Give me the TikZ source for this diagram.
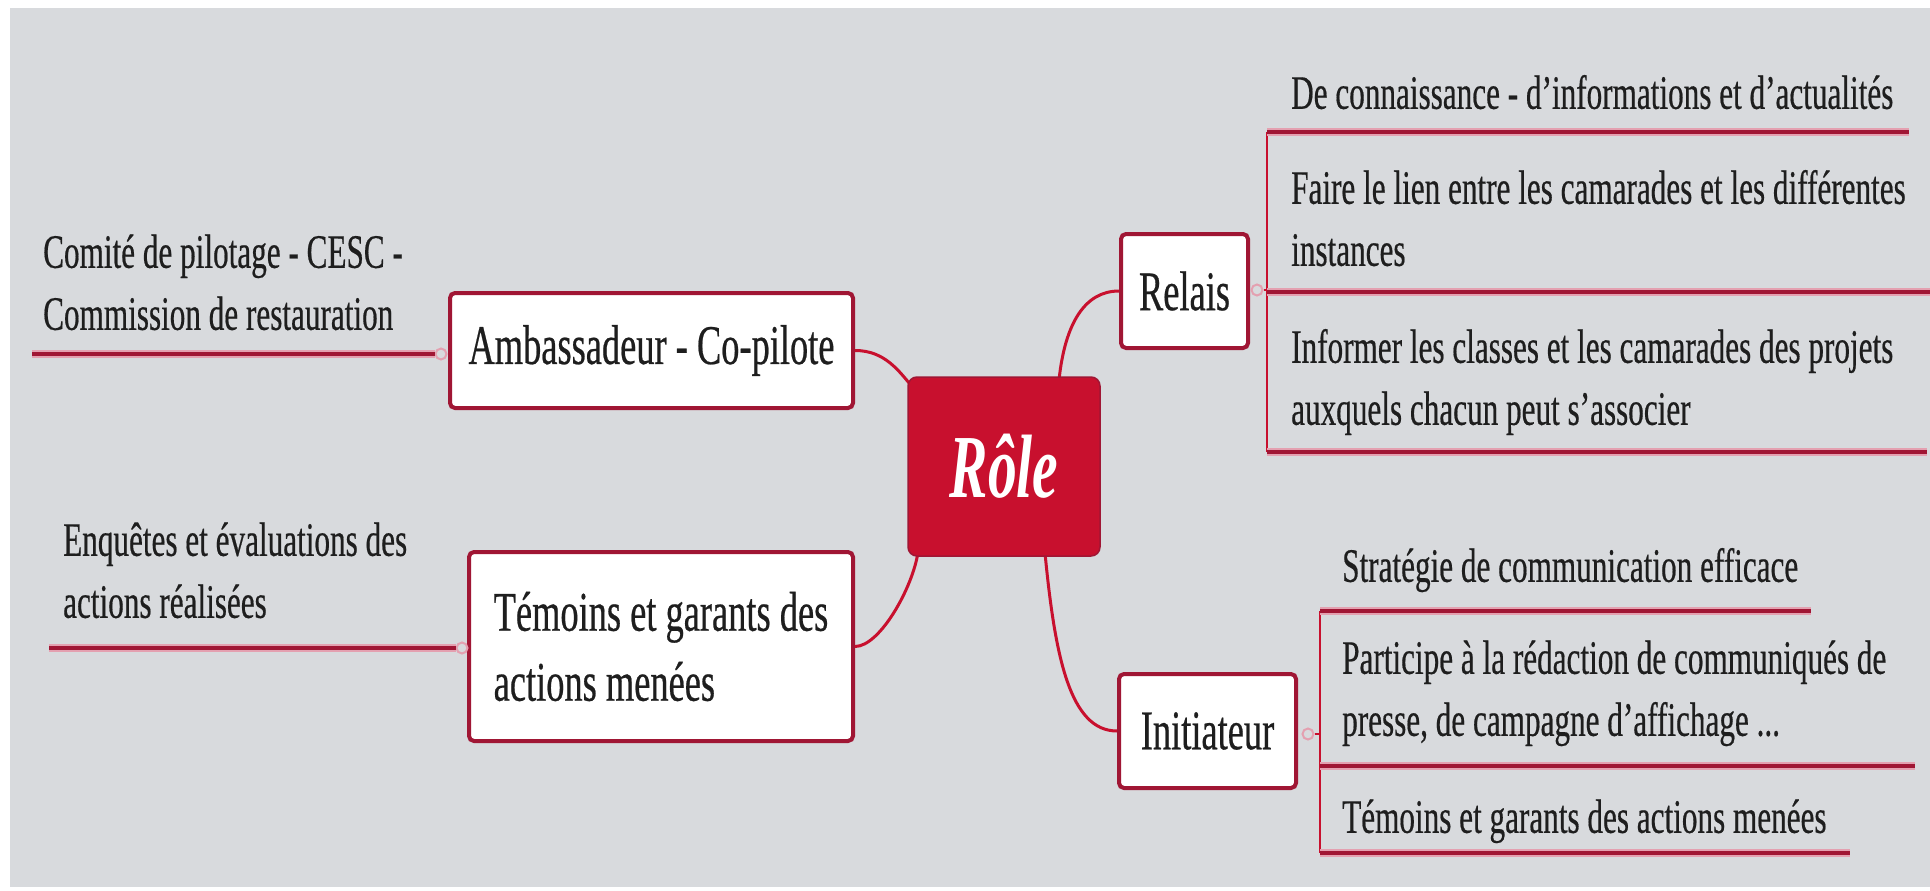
\documentclass[tikz,border=0pt]{standalone}
\usepackage{fontspec}
\setmainfont{Liberation Serif}
\newfontfamily\leaffont[FakeStretch=0.65,FakeBold=0.4]{Liberation Serif}
\newfontfamily\rolefont[FakeStretch=0.64]{Liberation Serif}
\usetikzlibrary{calc}
\definecolor{bggray}{RGB}{216,218,221}
\definecolor{crim}{RGB}{200,16,46}
\definecolor{dcrim}{RGB}{160,22,52}
\definecolor{pinkhalo}{RGB}{228,160,176}
\definecolor{txt}{RGB}{30,30,30}
\tikzset{
  box/.style={draw=dcrim, line width=4pt, fill=white, rounded corners=5pt, inner sep=0pt,
    font=\leaffont\fontsize{56}{70}\selectfont, text=txt, align=left},
  rolebox/.style={fill=crim, draw=dcrim, line width=1.5pt, rounded corners=9pt, inner sep=0pt,
    minimum width=192pt, minimum height=179pt, text=white,
    font=\rolefont\bfseries\itshape\fontsize{90}{100}\selectfont},
  leaftext/.style={anchor=south west, inner sep=0pt, text depth=0pt, align=left, text=txt,
    font=\leaffont\fontsize{48}{62}\selectfont},
  leafline/.style={draw=pinkhalo, line width=2pt, double=dcrim, double distance=4pt},
  conn/.style={draw=crim, line width=3pt},
  bracket/.style={draw=crim, line width=2.5pt},
  knob/.style={circle, draw=pinkhalo, line width=2pt, fill=bggray, minimum size=11pt, inner sep=0pt},
}
\begin{document}
\begin{tikzpicture}[x=1pt,y=-1pt]
\useasboundingbox (0,0) rectangle (1930,891);
\fill[white] (0,0) rectangle (1930,891);
\fill[bggray] (10,8) rectangle (1930,887);

% main boxes
\node[box, minimum width=403pt, minimum height=115pt] (amb) at (651.5,350.5) {Ambassadeur - Co-pilote};
\node[box, minimum width=384pt, minimum height=189pt] (tem) at (661,646.5) {Témoins et garants des\\actions menées};
\node[box, minimum width=127pt, minimum height=114pt] (rel) at (1184.5,291) {Relais};
\node[box, minimum width=177pt, minimum height=114pt] (ini) at (1207.5,731) {Initiateur};

% connectors to centre
\draw[conn] (amb.east) .. controls +(30,0) and +(-15,-18) .. ($(908,377)+(6,12)$) coordinate (ra);
\draw[conn] (tem.east) .. controls +(25,0) and +(-5,35) .. (918,552) coordinate (rb);
\draw[conn] (1059,380) coordinate (rc) .. controls +(6,-57) and +(-34,0) .. (rel.west);
\draw[conn] (1045,553) coordinate (rd) .. controls +(10,104) and +(-47,0) .. (ini.west);

\node[rolebox] (role) at (1004,466.5) {Rôle};

% left leaves
\coordinate (l1s) at (32,354);
\node[knob] (k1) at (441,354) {};
\draw[leafline] (l1s) -- (k1.west);
\node[leaftext] (t1) at (43,330) {Comité de pilotage - CESC -\\Commission de restauration};

\coordinate (l2s) at (49,648);
\node[knob] (k2) at (462,648) {};
\draw[leafline] (l2s) -- (k2.west);
\node[leaftext] (t2) at (63,618) {Enquêtes et évaluations des\\actions réalisées};

% Relais leaves
\node[knob] (k3) at (1257,290) {};
\coordinate (b3) at (1267,290);
\coordinate (b3t) at (1267,132);
\coordinate (b3m) at (1267,292);
\coordinate (b3b) at (1267,452);
\coordinate (e31) at (1909,132);
\coordinate (e32) at (1930,292);
\coordinate (e33) at (1927,452);
\draw[bracket] (k3.east) -- (b3);
\draw[bracket] (b3t) -- (b3b);
\draw[leafline] (b3t) -- (e31);
\draw[leafline] (b3m) -- (e32);
\draw[leafline] (b3b) -- (e33);
\node[leaftext] (t31) at (1291,109) {De connaissance - d’informations et d’actualités};
\node[leaftext] (t32) at (1291,266) {Faire le lien entre les camarades et les différentes\\instances};
\node[leaftext] (t33) at (1291,425) {Informer les classes et les camarades des projets\\auxquels chacun peut s’associer};

% Initiateur leaves
\node[knob] (k4) at (1308,734) {};
\coordinate (b4) at (1320,734);
\coordinate (b4t) at (1320,611);
\coordinate (b4m) at (1320,766);
\coordinate (b4b) at (1320,853);
\coordinate (e41) at (1811,611);
\coordinate (e42) at (1915,766);
\coordinate (e43) at (1850,853);
\draw[bracket] (k4.east) -- (b4);
\draw[bracket] (b4t) -- (b4b);
\draw[leafline] (b4t) -- (e41);
\draw[leafline] (b4m) -- (e42);
\draw[leafline] (b4b) -- (e43);
\node[leaftext] (t41) at (1342,582) {Stratégie de communication efficace};
\node[leaftext] (t42) at (1342,736) {Participe à la rédaction de communiqués de\\presse, de campagne d’affichage ...};
\node[leaftext] (t43) at (1342,833) {Témoins et garants des actions menées};
\end{tikzpicture}
\end{document}
